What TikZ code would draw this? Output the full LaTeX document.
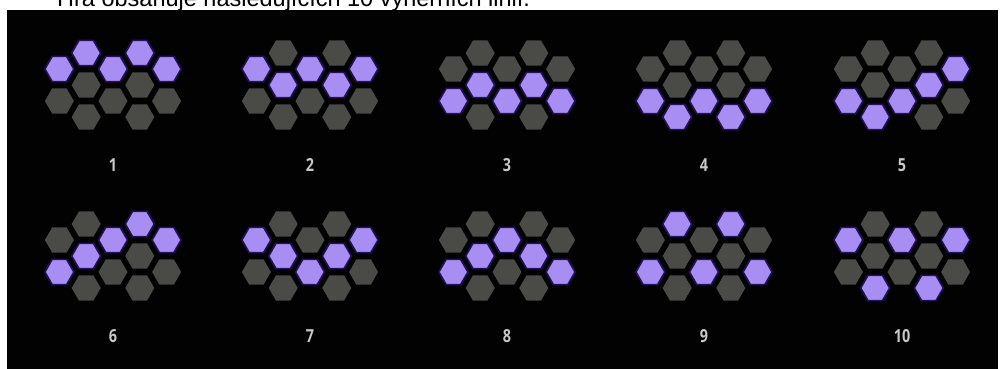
\documentclass[tikz,border=0pt]{standalone}
\usepackage{fontspec}
\setmainfont{Liberation Sans}
\newfontfamily\labfont{Open Sans}
\definecolor{panel}{HTML}{020203}
\definecolor{lav}{HTML}{A88EF2}
\definecolor{lavedge}{HTML}{24105E}
\definecolor{hexgrey}{HTML}{4A4A46}
\definecolor{numgrey}{HTML}{C8C8C8}
\tikzset{
  hex/.pic={\path[pic actions] (0:14.5) -- (60:14.5) -- (120:14.5) -- (180:14.5) -- (240:14.5) -- (300:14.5) -- cycle;},
  onhex/.style={fill=lav, draw=lavedge, line width=1.6pt, line join=round},
  offhex/.style={fill=hexgrey, draw=none},
  numlabel/.style={text=numgrey, font=\labfont\bfseries\fontsize{18}{18}\selectfont, inner sep=0pt, xscale=0.8},
  heading/.style={text=black, font=\fontsize{23.5}{28}\selectfont, inner sep=0pt, anchor=base west}
}
% \hexgrid{cx}{topy}{on cells as col/halfrow}{label}{name}
\newcommand{\hexgrid}[5]{%
  \foreach \c/\h in {0/1,0/3,1/0,1/2,1/4,2/1,2/3,3/0,3/2,3/4,4/1,4/3}{%
    \pic[offhex] at ({#1+(\c-2)*26.8},{#2+\h*16}) {hex};}
  \foreach \c/\h in {#3}{%
    \pic[onhex] at ({#1+(\c-2)*26.8},{#2+\h*16}) {hex};}
  \node[numlabel] (#5) at ({#1},{#2+112}) {#4};
}
\begin{document}
\begin{tikzpicture}[x=1pt,y=-1pt]
\useasboundingbox (0,0) rectangle (1002,369);
\fill[white] (0,0) rectangle (1002,369);
\node[heading] (title) at (57,6.5) {Hra obsahuje následujících 10 výherních linií.};
\fill[panel] (7,10) rectangle (998,369);
\hexgrid{113}{53}{1/0,3/0,0/1,2/1,4/1}{1}{l1}
\hexgrid{310}{53}{0/1,2/1,4/1,1/2,3/2}{2}{l2}
\hexgrid{507}{53}{1/2,3/2,0/3,2/3,4/3}{3}{l3}
\hexgrid{704}{53}{0/3,2/3,4/3,1/4,3/4}{4}{l4}
\hexgrid{902}{53}{4/1,3/2,2/3,0/3,1/4}{5}{l5}
\hexgrid{113}{224}{3/0,2/1,4/1,1/2,0/3}{6}{l6}
\hexgrid{310}{224}{0/1,4/1,1/2,3/2,2/3}{7}{l7}
\hexgrid{507}{224}{2/1,1/2,3/2,0/3,4/3}{8}{l8}
\hexgrid{704}{224}{1/0,3/0,0/3,2/3,4/3}{9}{l9}
\hexgrid{902}{224}{0/1,2/1,4/1,1/4,3/4}{10}{l10}
\end{tikzpicture}
\end{document}
